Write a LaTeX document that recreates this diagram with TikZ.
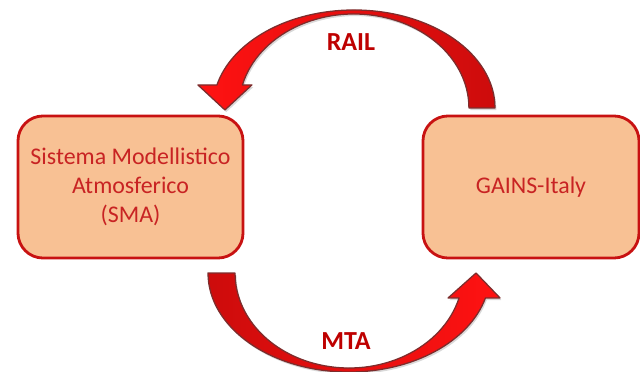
\documentclass[tikz,border=0pt]{standalone}
\usepackage{fontspec}
\setmainfont{Carlito}
\usetikzlibrary{calc,shadows}
\definecolor{boxfill}{RGB}{248,193,148}
\definecolor{boxline}{RGB}{200,18,18}
\definecolor{boxtext}{RGB}{200,35,35}
\definecolor{arrowlight}{RGB}{255,18,18}
\definecolor{arrowdark}{RGB}{205,12,12}
\definecolor{arrowedge}{RGB}{125,45,45}
\definecolor{labeltext}{RGB}{190,0,0}
\begin{document}
\begin{tikzpicture}[x=0.025cm,y=0.025cm,
  box/.style = {rectangle,rounded corners=0.625cm,draw=boxline,line width=2pt,fill=boxfill,
                text=boxtext,align=center,minimum height=3.55cm,outer sep=0mm,
                font=\fontsize{17}{20.6}\selectfont},
  bigarrow/.style = {draw=arrowedge,line width=0.9pt,line join=round,
                drop shadow={shadow xshift=1pt,shadow yshift=-1.5pt,opacity=0.3}},
  flowlabel/.style = {text=labeltext,font=\fontsize{18.5}{22}\selectfont\bfseries}]
\useasboundingbox (0,0) rectangle (640,371);
\node[box,minimum width=5.625cm] (sma) at (130.5,184) {Sistema Modellistico\\Atmosferico\\(SMA)};
\node[box,minimum width=5.4cm] (gains) at (531,184) {GAINS-Italy};
\coordinate (railstart) at ($(gains.north west)+(72,8)$);
\coordinate (mtastart) at ($(sma.south)+(77.5,-15)$);
\draw[bigarrow,left color=arrowlight,right color=arrowdark] (railstart)
    arc[start angle=0,end angle=166.4,x radius=141,y radius=98]
    -- ++(-19,0) -- ++(27,-25) -- ++(27,25) -- ++(-9.5,0)
    arc[start angle=165.8,end angle=0,x radius=115,y radius=94] -- cycle;
\draw[bigarrow,left color=arrowdark,right color=arrowlight] (mtastart)
    arc[start angle=180,end angle=345.4,x radius=141,y radius=99]
    -- ++(14.6,0) -- ++(-24,25) -- ++(-28,-25) -- ++(11,0)
    arc[start angle=344.76,end angle=180,x radius=114,y radius=95] -- cycle;
\node[flowlabel] (rail) at (351,329) {RAIL};
\node[flowlabel] (mta) at (346,30) {MTA};
\end{tikzpicture}
\end{document}
